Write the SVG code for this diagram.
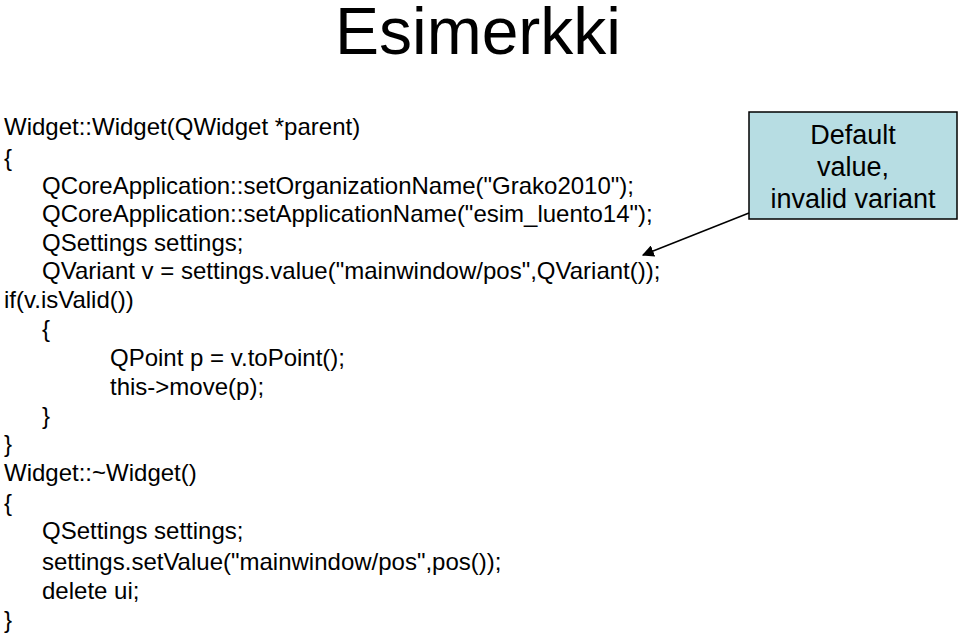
<svg xmlns="http://www.w3.org/2000/svg" width="960" height="636" viewBox="0 0 960 636">
<style>
text{font-family:"Liberation Sans",Arial,sans-serif;fill:#000}
.c{font-size:24px}
.t{font-size:66px}
.n{font-size:27px;text-anchor:middle}
</style>
<defs><marker id="ah" viewBox="0 0 10 10" refX="9" refY="5" markerWidth="8" markerHeight="8" orient="auto"><path d="M0,0 L10,5 L0,10 z" fill="#000"/></marker></defs>
<rect width="960" height="636" fill="#fff"/>
<text class="t" x="478" y="54" text-anchor="middle">Esimerkki</text>
<g id="code" class="c">
<text class="c" x="4" y="135">Widget::Widget(QWidget *parent)</text>
<text class="c" x="4" y="166">{</text>
<text class="c" x="42" y="194">QCoreApplication::setOrganizationName("Grako2010");</text>
<text class="c" x="42" y="222">QCoreApplication::setApplicationName("esim_luento14");</text>
<text class="c" x="42" y="251">QSettings settings;</text>
<text class="c" x="42" y="279">QVariant v = settings.value("mainwindow/pos",QVariant());</text>
<text class="c" x="4" y="308">if(v.isValid())</text>
<text class="c" x="42" y="337">{</text>
<text class="c" x="110" y="366">QPoint p = v.toPoint();</text>
<text class="c" x="110" y="395">this-&gt;move(p);</text>
<text class="c" x="42" y="424">}</text>
<text class="c" x="4" y="452">}</text>
<text class="c" x="4" y="481">Widget::~Widget()</text>
<text class="c" x="4" y="511">{</text>
<text class="c" x="42" y="539">QSettings settings;</text>
<text class="c" x="42" y="570">settings.setValue("mainwindow/pos",pos());</text>
<text class="c" x="42" y="599">delete ui;</text>
<text class="c" x="4" y="628">}</text>
</g>
<g id="note">
<rect x="749" y="112" width="208" height="107" fill="#b7dde3" stroke="#000" stroke-width="1.5"/>
<text class="n" x="853" y="144">Default</text>
<text class="n" x="853" y="176">value,</text>
<text class="n" x="853" y="208">invalid variant</text>
</g>
<g id="connectors">
<line x1="749" y1="213" x2="643" y2="255" stroke="#000" stroke-width="1.5" marker-end="url(#ah)"/>
</g>
</svg>
